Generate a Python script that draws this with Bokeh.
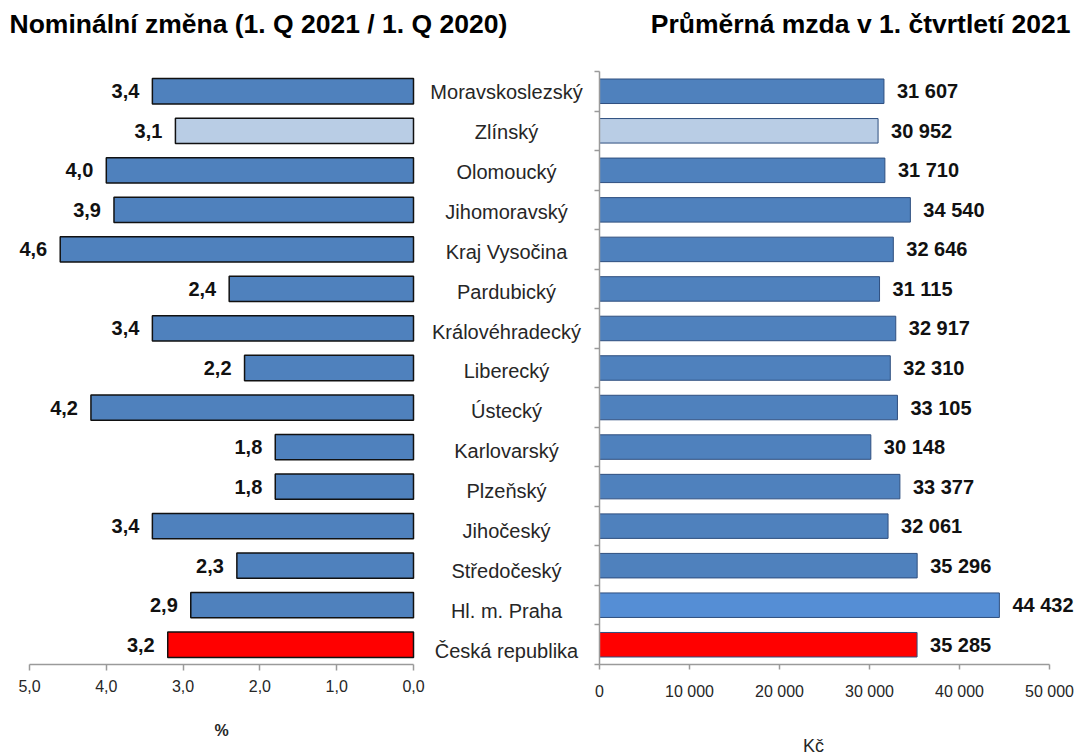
from bokeh.plotting import figure
from bokeh.layouts import row, column
from bokeh.models import ColumnDataSource, Range1d, FixedTicker
from bokeh.embed import file_html
from bokeh.resources import INLINE
from bokeh.core.properties import value

categories = ["Moravskoslezský", "Zlínský", "Olomoucký", "Jihomoravský", "Kraj Vysočina",
              "Pardubický", "Královéhradecký", "Liberecký", "Ústecký", "Karlovarský",
              "Plzeňský", "Jihočeský", "Středočeský", "Hl. m. Praha", "Česká republika"]
change_pct = [3.4, 3.1, 4.0, 3.9, 4.6, 2.4, 3.4, 2.2, 4.2, 1.8, 1.8, 3.4, 2.3, 2.9, 3.2]
avg_wage = [31607, 30952, 31710, 34540, 32646, 31115, 32917, 32310, 33105, 30148,
            33377, 32061, 35296, 44432, 35285]

left_ticks = [0, 1, 2, 3, 4, 5]
left_tick_labels = ["0,0", "1,0", "2,0", "3,0", "4,0", "5,0"]
right_ticks = [0, 10000, 20000, 30000, 40000, 50000]
right_tick_labels = ["0", "10 000", "20 000", "30 000", "40 000", "50 000"]

BLUE = "#4F81BD"
LIGHT = "#B9CDE5"
PRAHA = "#558ED5"
RED = "#FF0000"
left_colors = [BLUE, LIGHT] + [BLUE] * 12 + [RED]
right_colors = [BLUE, LIGHT] + [BLUE] * 11 + [PRAHA, RED]

title_left = "Nominální změna (1. Q 2021 / 1. Q 2020)"
title_right = "Průměrná mzda v 1. čtvrtletí 2021"
unit_left = "%"
unit_right = "Kč"

FONT = "Liberation Sans"
AXIS_COLOR = "#9A9A9A"
TEXT_COLOR = "#262626"

n = len(categories)
idx = list(range(n))
left_text = [f"{v:.1f}".replace(".", ",") for v in change_pct]
right_text = [f"{v:,}".replace(",", " ") for v in avg_wage]

src_left = ColumnDataSource(dict(idx=idx, v=change_pct, color=left_colors, label=left_text))
src_right = ColumnDataSource(dict(idx=idx, v=avg_wage, color=right_colors, label=right_text,
                                  cat=categories))

W = 1078
TOP_H = 45                      # title strip
BOT_Y = 712                     # start of the unit strip
H = 755
MAIN_H = BOT_Y - TOP_H
# pixel geometry (page coordinates)
L_W = 590
L_TOP, L_BOT = 68, 664          # left frame
L_ZERO, L_PX = 413, 76.8        # x pixel of 0 %, px per 1 %
R_W = W - L_W
R_LEFT = 599
R_TOP, R_BOT = 71, 672          # right frame
R_PX = 0.009                    # px per Kč
row_h_right = (R_BOT - R_TOP) / n


def lx(px):  # page x pixel -> left data x
    return (L_ZERO - px) / L_PX


def rx(px):
    return (px - R_LEFT) / R_PX


def ry(py):
    return -0.5 + (py - R_TOP) / row_h_right


def style_xaxis(p, ticks, labels, bounds, tick_out, standoff):
    ax = p.xaxis[0]
    ax.ticker = FixedTicker(ticks=ticks)
    ax.major_label_overrides = {t: l for t, l in zip(ticks, labels)}
    ax.bounds = bounds
    ax.axis_line_color = AXIS_COLOR
    ax.axis_line_width = 1.5
    ax.major_tick_line_color = AXIS_COLOR
    ax.major_tick_line_width = 1.5
    ax.major_tick_out = tick_out
    ax.major_tick_in = 0
    ax.minor_tick_line_color = None
    ax.major_label_text_font = FONT
    ax.major_label_text_font_size = "16px"
    ax.major_label_text_color = TEXT_COLOR
    ax.major_label_standoff = standoff


def strip(height):
    s = figure(width=W, height=height, x_range=Range1d(0, W), y_range=Range1d(height, 0),
               output_backend="svg", toolbar_location=None,
               x_axis_location=None, y_axis_location=None,
               min_border_left=0, min_border_right=0, min_border_top=0, min_border_bottom=0)
    return s


# ---------------- title strip ----------------
pt = strip(TOP_H)
pt.text(x=[9], y=[23], text=[title_left], text_align="left", text_baseline="middle",
        text_font=value(FONT), text_font_size="26.5px", text_font_style="bold",
        text_color="#000000")
pt.text(x=[1070], y=[23], text=[title_right], text_align="right", text_baseline="middle",
        text_font=value(FONT), text_font_size="26.5px", text_font_style="bold",
        text_color="#000000")

# ---------------- left panel (bars + category labels) ----------------
p1 = figure(width=L_W, height=MAIN_H,
            x_range=Range1d(lx(0), lx(L_W)),
            y_range=Range1d(n - 0.5, -0.5),
            output_backend="svg", toolbar_location=None, y_axis_location=None,
            min_border_left=0, min_border_right=0,
            min_border_top=L_TOP - TOP_H, min_border_bottom=BOT_Y - L_BOT)
# extra y range that puts the category labels on the rows of the right panel
p1.extra_y_ranges = {"lab": Range1d(ry(L_BOT), ry(L_TOP))}

p1.hbar(y="idx", left=0, right="v", height=0.64, fill_color="color",
        line_color="#111111", line_width=1.5, source=src_left)
p1.text(x="v", y="idx", text="label", source=src_left, text_align="right",
        text_baseline="middle", x_offset=-13, text_font=value(FONT),
        text_font_style="bold", text_font_size="20px", text_color="#111111")
p1.text(x=lx(506), y="idx", text="cat", source=src_right,
        y_range_name="lab", text_align="center", text_baseline="middle", y_offset=-2,
        text_font=value(FONT), text_font_size="20px", text_color=TEXT_COLOR)
style_xaxis(p1, left_ticks, left_tick_labels, (0, 5), 6, 9)

# ---------------- right panel ----------------
p3 = figure(width=R_W, height=MAIN_H,
            x_range=Range1d(0, rx(W)),
            y_range=Range1d(n - 0.5, -0.5),
            output_backend="svg", toolbar_location=None,
            min_border_left=R_LEFT - L_W, min_border_right=0,
            min_border_top=R_TOP - TOP_H, min_border_bottom=BOT_Y - R_BOT)
p3.hbar(y="idx", left=0, right="v", height=0.62, fill_color="color",
        line_color="#2F4F7F", line_width=1, source=src_right)
p3.text(x="v", y="idx", text="label", source=src_right, text_align="left",
        text_baseline="middle", x_offset=13, text_font=value(FONT),
        text_font_style="bold", text_font_size="20px", text_color="#111111")
style_xaxis(p3, right_ticks, right_tick_labels, (0, 50000), 5, 13)

ya = p3.yaxis[0]
ya.ticker = FixedTicker(ticks=[i - 0.5 for i in range(n + 1)])
ya.major_label_text_font_size = "1px"
ya.major_label_text_color = None
ya.major_label_standoff = 0
ya.axis_line_color = AXIS_COLOR
ya.axis_line_width = 1.5
ya.major_tick_line_color = AXIS_COLOR
ya.major_tick_line_width = 1.5
ya.major_tick_out = 5
ya.major_tick_in = 0
ya.minor_tick_line_color = None

# ---------------- unit strip ----------------
pb = strip(H - BOT_Y)
pb.text(x=[221], y=[730 - BOT_Y], text=[unit_left], text_align="center",
        text_baseline="middle", text_font=value(FONT), text_font_size="16px",
        text_font_style="bold", text_color=TEXT_COLOR)
pb.text(x=[813], y=[745 - BOT_Y], text=[unit_right], text_align="center",
        text_baseline="middle", text_font=value(FONT), text_font_size="18px",
        text_color=TEXT_COLOR)

for p in (pt, p1, p3, pb):
    p.grid.visible = False
    p.outline_line_color = None
    p.background_fill_color = "white"
    p.border_fill_color = "white"

layout = column(pt, row(p1, p3), pb)
open("out.html", "w").write(file_html(layout, INLINE))
